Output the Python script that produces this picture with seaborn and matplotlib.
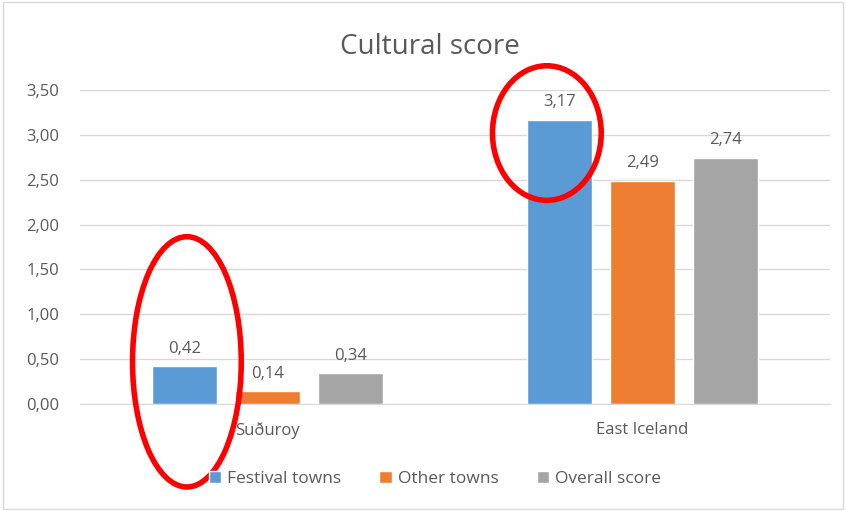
import pandas as pd
import matplotlib.pyplot as plt
import seaborn as sns
from matplotlib.patches import Ellipse, Rectangle

# --- Data ---
regions = ['Suðuroy', 'East Iceland']
series = ['Festival towns', 'Other towns', 'Overall score']
festival = [0.42, 3.17]
other = [0.14, 2.49]
overall = [0.34, 2.74]
y_ticks = [0.0, 0.5, 1.0, 1.5, 2.0, 2.5, 3.0, 3.5]

colors = ['#5B9BD5', '#ED7D31', '#A5A5A5']
text_col = '#595959'


def comma(v):
    return f'{v:.2f}'.replace('.', ',')


def main():
    df = pd.DataFrame({
        'Region': regions * 3,
        'Series': [s for s in series for _ in regions],
        'Score': festival + other + overall,
    })

    sns.set_style('white')
    plt.rcParams['font.family'] = ['Open Sans', 'DejaVu Sans']

    fig = plt.figure(figsize=(8.46, 5.11), dpi=100)
    ax = fig.add_axes([0.0946, 0.2094, 0.8864, 0.6145])

    sns.barplot(data=df, x='Region', y='Score', hue='Series', hue_order=series,
                palette=colors, width=0.664, gap=0.22, saturation=1,
                errorbar=None, ax=ax, legend=True)

    for cont in ax.containers:
        ax.bar_label(cont, labels=[comma(b.get_height()) for b in cont],
                     padding=7, fontsize=12, color=text_col)

    ax.set_ylim(0, 3.5)
    ax.set_xlim(-0.5, 1.5)
    ax.set_yticks(y_ticks)
    ax.set_yticklabels([comma(t) for t in y_ticks])
    ax.yaxis.grid(True, color='#D9D9D9', linewidth=1)
    ax.set_axisbelow(True)
    ax.tick_params(axis='y', length=0, pad=15, labelsize=12, labelcolor=text_col)
    ax.tick_params(axis='x', length=0, pad=13, labelsize=12, labelcolor=text_col)
    ax.set_xlabel('')
    ax.set_ylabel('')
    for side in ['left', 'right', 'top']:
        ax.spines[side].set_visible(False)
    ax.spines['bottom'].set_color('#D9D9D9')

    fig.text(0.508, 0.908, 'Cultural score', ha='center', va='center',
             fontsize=20, color=text_col)

    handles, labels = ax.get_legend_handles_labels()
    ax.legend_.remove()
    fig.legend(handles, labels, loc='center', bbox_to_anchor=(0.514, 0.062),
               ncol=3, frameon=False, fontsize=12.5, labelcolor=text_col,
               handlelength=0.7, handleheight=0.7, handletextpad=0.35,
               columnspacing=2.2)

    # red highlight ellipses
    ax.add_patch(Ellipse((-0.215, 0.47), 0.29, 2.79, fill=False, edgecolor='#FF0000',
                         linewidth=4, clip_on=False, zorder=5))
    ax.add_patch(Ellipse((0.745, 3.02), 0.29, 1.5, fill=False, edgecolor='#FF0000',
                         linewidth=4, clip_on=False, zorder=5))

    # chart border
    fig.patches.append(Rectangle((0.003, 0.004), 0.994, 0.992, transform=fig.transFigure,
                                 fill=False, edgecolor='#D9D9D9', linewidth=1))

    plt.savefig('out.png', dpi=100)
    plt.close()


if __name__ == '__main__':
    main()
